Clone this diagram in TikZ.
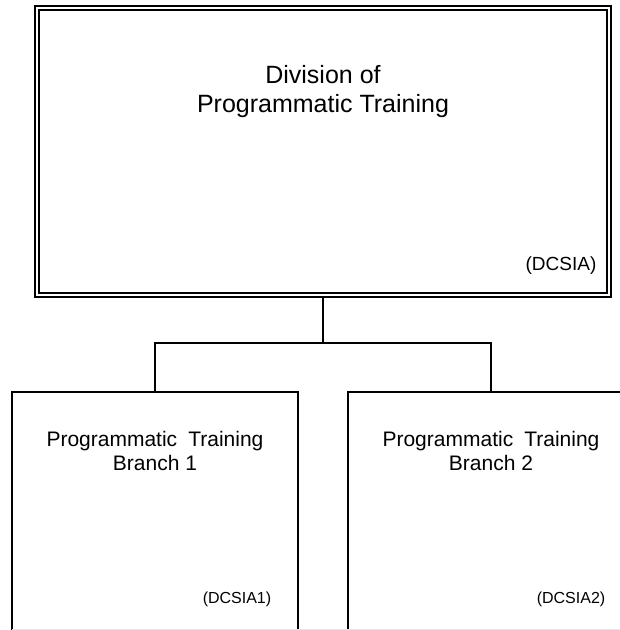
\documentclass[tikz,border=0pt]{standalone}
\usepackage{fontspec}
\setmainfont{Liberation Sans}
\usepackage{tikz}
\usepackage{xcolor}

\begin{document}
\begin{tikzpicture}[x=1pt,y=-1pt,
  unitbox/.style={draw,rectangle,line width=2.4pt,inner sep=0pt},
  headbox/.style={draw,rectangle,double,line width=1.8pt,double distance=2pt,inner sep=0pt},
  link/.style={-,line width=2.4pt}]

\useasboundingbox (0,0) rectangle (620,630);
\clip (0,0) rectangle (620,630);

\node[headbox,minimum width=572,minimum height=287](div) at (323,151.5){};
\node[align=center,font=\fontsize{25}{29}\selectfont](divname) at (323,92){Division of\\Programmatic Training};
\node[font=\fontsize{19}{22}\selectfont](divcode) at (561,266){(DCSIA)};

\node[unitbox,minimum width=286,minimum height=320](br1) at (155,552){};
\node[unitbox,minimum width=286,minimum height=320](br2) at (491,552){};
\node[align=center,font=\fontsize{21}{24}\selectfont](br1name) at (155,451){Programmatic\hspace{0.25em} Training\\Branch 1};
\node[align=center,font=\fontsize{21}{24}\selectfont](br2name) at (491,451){Programmatic\hspace{0.25em} Training\\Branch 2};
\node[font=\fontsize{16}{19}\selectfont](br1code) at (237,599){(DCSIA1)};
\node[font=\fontsize{16}{19}\selectfont](br2code) at (571,599){(DCSIA2)};

\draw [link](div.south)--++(0,47) -| (br1.north);
\draw [link](div.south)--++(0,47) -| (br2.north);

\draw [gray!20,line width=1pt](12,629)--(620,629);

\end{tikzpicture}
\end{document}
